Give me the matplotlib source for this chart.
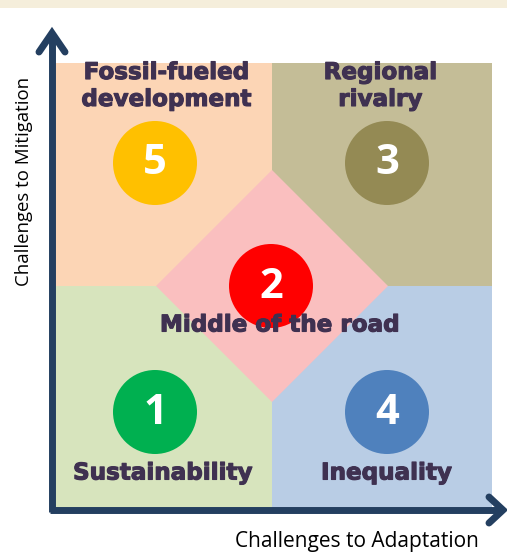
import matplotlib
matplotlib.use("Agg")
import matplotlib.pyplot as plt
import matplotlib.patheffects as pe
from matplotlib.patches import Rectangle, Polygon, Circle

# ---- data ----
scenario_numbers = ["1", "2", "3", "4", "5"]
scenario_names = ["Sustainability", "Middle of the road", "Regional\nrivalry", "Inequality", "Fossil-fueled\ndevelopment"]
circle_colors = ["#00B050", "#FF0000", "#948A54", "#4F81BD", "#FFC000"]
quadrant_colors = {"LL": "#D7E4BD", "LR": "#B9CDE5", "UL": "#FCD5B5", "UR": "#C4BD97"}
diamond_color = "#FABFBF"
x_label = "Challenges to Adaptation"
y_label = "Challenges to Mitigation"

text_color = "#3F3151"
axis_color = "#243F60"

W, H = 507, 555
fig = plt.figure(figsize=(W / 100, H / 100), dpi=100)
ax = fig.add_axes([0, 0, 1, 1])
ax.set_xlim(0, W)
ax.set_ylim(H, 0)
ax.axis("off")

# box in pixel coords
x0, x1 = 55, 492
y0, y1 = 63, 508  # top, bottom
xm, ym = 272, 286

# top decorative strip
ax.add_patch(Rectangle((0, 0), W, 8, facecolor="#F5EEDB", edgecolor="none"))

# quadrants
ax.add_patch(Rectangle((x0, y0), xm - x0, ym - y0, facecolor=quadrant_colors["UL"], edgecolor="none"))
ax.add_patch(Rectangle((xm, y0), x1 - xm, ym - y0, facecolor=quadrant_colors["UR"], edgecolor="none"))
ax.add_patch(Rectangle((x0, ym), xm - x0, y1 - ym, facecolor=quadrant_colors["LL"], edgecolor="none"))
ax.add_patch(Rectangle((xm, ym), x1 - xm, y1 - ym, facecolor=quadrant_colors["LR"], edgecolor="none"))

# diamond
d = 116
ax.add_patch(Polygon([(xm, ym - d), (xm + d, ym), (xm, ym + d), (xm - d, ym)],
                     closed=True, facecolor=diamond_color, edgecolor="none"))

# circles + numbers
circle_pos = {"1": (155, 412), "2": (271, 286), "3": (387, 163), "4": (387, 412), "5": (155, 163)}
for num, col in zip(scenario_numbers, circle_colors):
    cx, cy = circle_pos[num]
    ax.add_patch(Circle((cx, cy), 42, facecolor=col, edgecolor="none", zorder=3))
    ax.text(cx, cy + 1, num, ha="center", va="center", color="white",
            fontsize=30, fontweight="bold", family="Open Sans", zorder=4)

# names
name_pos = {"Sustainability": (162, 473), "Middle of the road": (279, 325),
            "Regional\nrivalry": (380, 86), "Inequality": (386, 473),
            "Fossil-fueled\ndevelopment": (166, 86)}
for name in scenario_names:
    tx, ty = name_pos[name]
    ax.text(tx, ty, name, ha="center", va="center", color=text_color,
            fontsize=16.6, fontweight="bold", family="DejaVu Sans",
            linespacing=1.22, zorder=5,
            path_effects=[pe.withStroke(linewidth=0.8, foreground=text_color)])

# axes arrows
lw = 5
ax.plot([52, 52], [512, 33], color=axis_color, lw=lw, solid_capstyle="butt", zorder=6)
ax.plot([50, 502], [510, 510], color=axis_color, lw=lw, solid_capstyle="butt", zorder=6)
ax.plot([39, 52, 65], [52, 33, 52], color=axis_color, lw=lw, solid_capstyle="round",
        solid_joinstyle="miter", zorder=6)
ax.plot([489, 503, 489], [497, 510, 523], color=axis_color, lw=lw, solid_capstyle="round",
        solid_joinstyle="miter", zorder=6)

# axis labels
ax.text(357, 542, x_label, ha="center", va="center", fontsize=15, family="Open Sans", color="black")
ax.text(24, 181, y_label, ha="center", va="center", rotation=90, fontsize=13.4,
        family="Open Sans", color="black")

fig.savefig("out.png", dpi=100)
